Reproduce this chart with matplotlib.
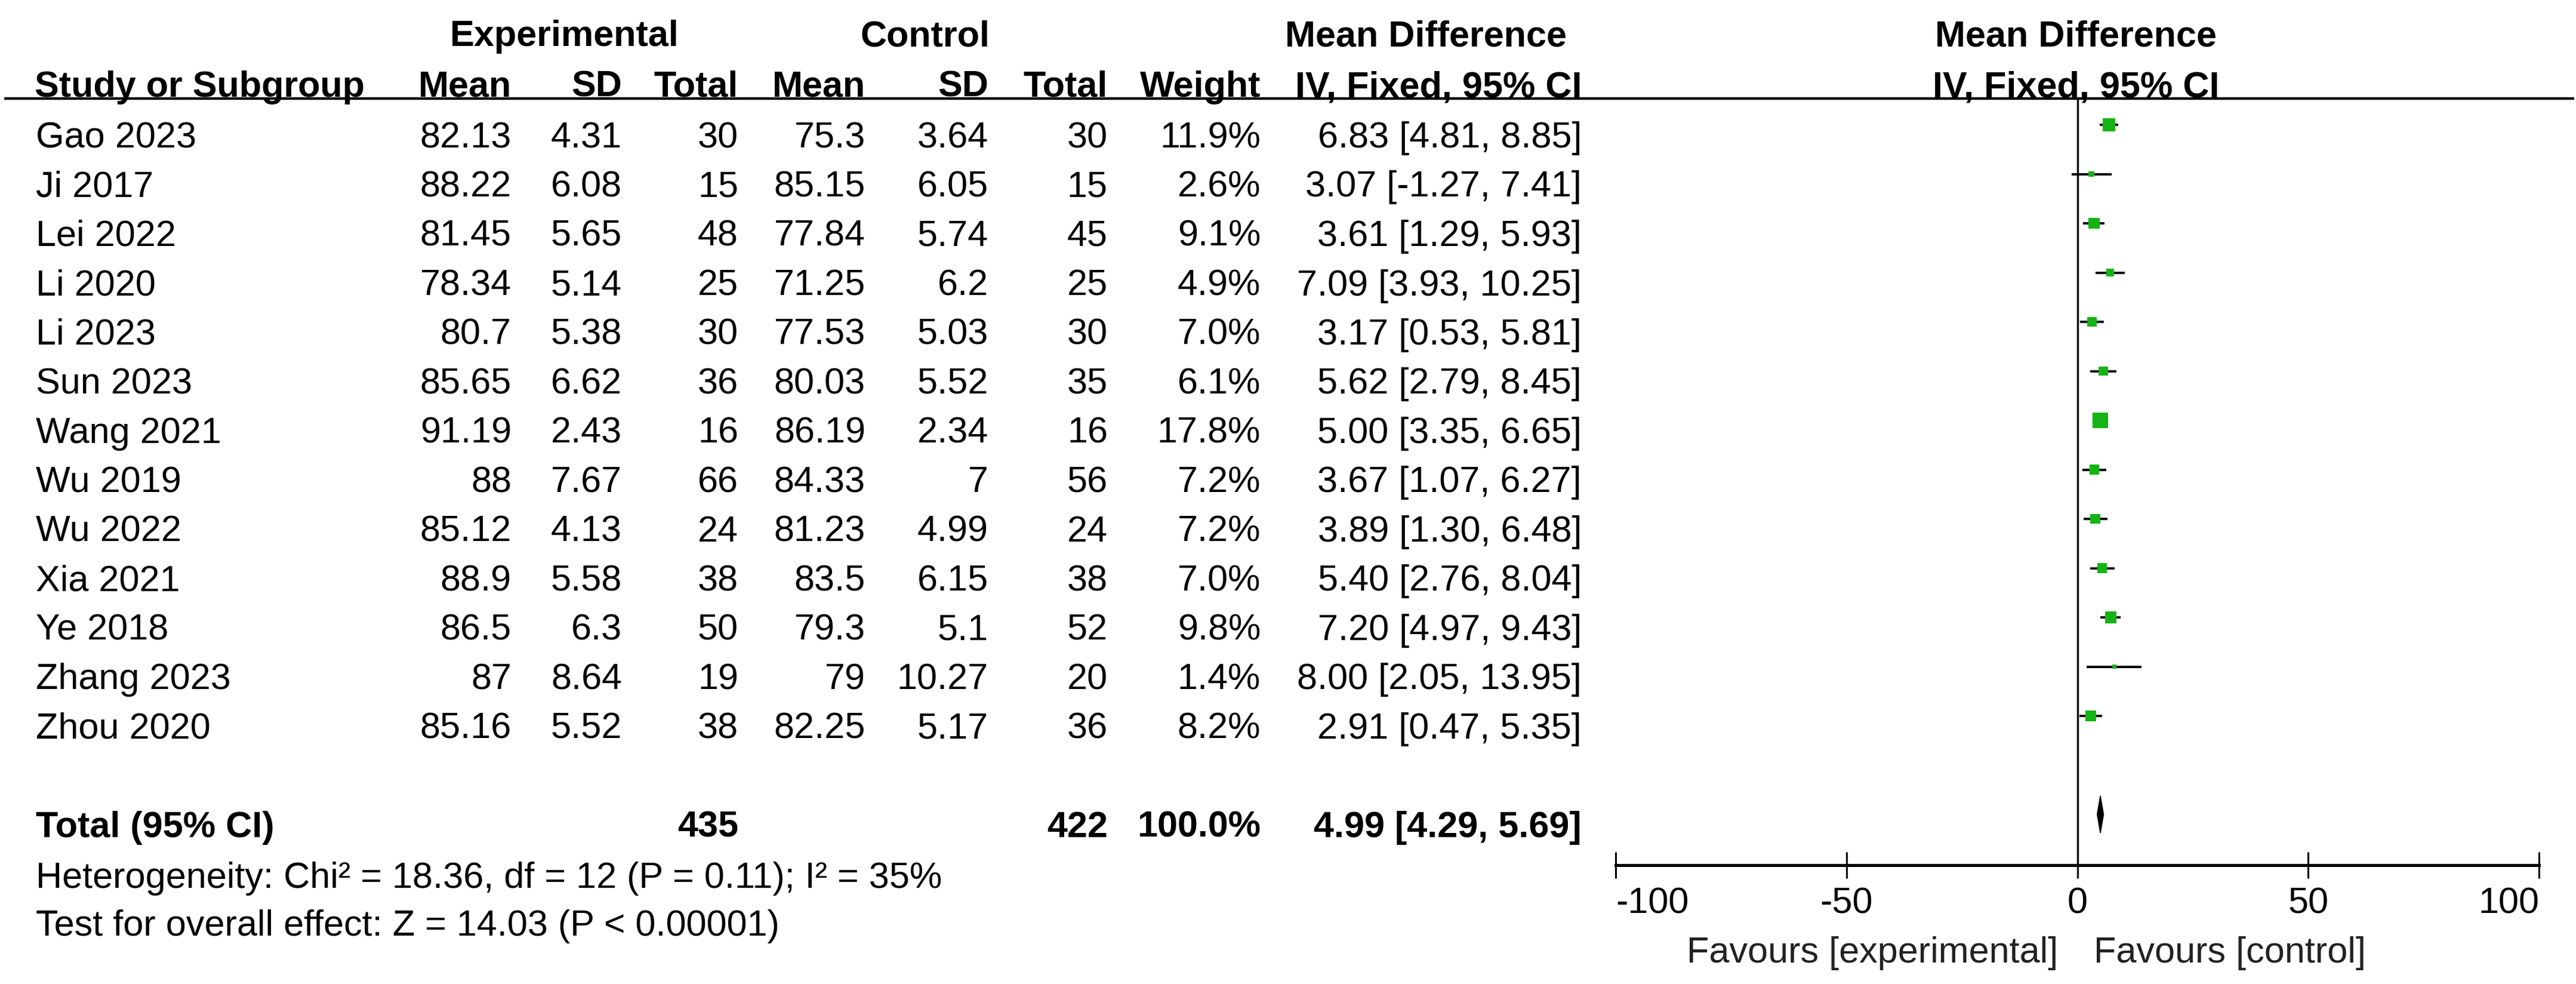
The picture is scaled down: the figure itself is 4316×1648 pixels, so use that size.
import matplotlib
matplotlib.use("Agg")
import matplotlib.pyplot as plt

plt.rcParams['font.family'] = ['Liberation Sans', 'DejaVu Sans']

# study data
studies = ["Gao 2023", "Ji 2017", "Lei 2022", "Li 2020", "Li 2023", "Sun 2023", "Wang 2021",
           "Wu 2019", "Wu 2022", "Xia 2021", "Ye 2018", "Zhang 2023", "Zhou 2020"]
exp_mean = [82.13, 88.22, 81.45, 78.34, 80.7, 85.65, 91.19, 88, 85.12, 88.9, 86.5, 87, 85.16]
exp_sd = [4.31, 6.08, 5.65, 5.14, 5.38, 6.62, 2.43, 7.67, 4.13, 5.58, 6.3, 8.64, 5.52]
exp_n = [30, 15, 48, 25, 30, 36, 16, 66, 24, 38, 50, 19, 38]
ctl_mean = [75.3, 85.15, 77.84, 71.25, 77.53, 80.03, 86.19, 84.33, 81.23, 83.5, 79.3, 79, 82.25]
ctl_sd = [3.64, 6.05, 5.74, 6.2, 5.03, 5.52, 2.34, 7, 4.99, 6.15, 5.1, 10.27, 5.17]
ctl_n = [30, 15, 45, 25, 30, 35, 16, 56, 24, 38, 52, 20, 36]
weight = [11.9, 2.6, 9.1, 4.9, 7.0, 6.1, 17.8, 7.2, 7.2, 7.0, 9.8, 1.4, 8.2]
md = [6.83, 3.07, 3.61, 7.09, 3.17, 5.62, 5.00, 3.67, 3.89, 5.40, 7.20, 8.00, 2.91]
ci_lo = [4.81, -1.27, 1.29, 3.93, 0.53, 2.79, 3.35, 1.07, 1.30, 2.76, 4.97, 2.05, 0.47]
ci_hi = [8.85, 7.41, 5.93, 10.25, 5.81, 8.45, 6.65, 6.27, 6.48, 8.04, 9.43, 13.95, 5.35]

total_exp = 435
total_ctl = 422
total_weight = 100.0
total_md = 4.99
total_lo = 4.29
total_hi = 5.69

het_text = "Heterogeneity: Chi\u00b2 = 18.36, df = 12 (P = 0.11); I\u00b2 = 35%"
effect_text = "Test for overall effect: Z = 14.03 (P < 0.00001)"

xticks = [-100, -50, 0, 50, 100]
xticklabels = ["-100", "-50", "0", "50", "100"]
fav_left = "Favours [experimental]"
fav_right = "Favours [control]"

# layout (pixels)
W, H = 4316, 1649
FS = 44
row0 = 225          # text centre of first study row
plot_row0 = 210     # marks sit a little above the text centre
rowh = 82.5
total_row = 14
line_y = 166
axis_y = 1450
plot_l, plot_r = 2707, 4254
cols = [857, 1042, 1237, 1450, 1656, 1856, 2112, 2650]
green = '#14b414'


def base(yc):
    # baseline from visual centre of digits
    return yc + 22


fig = plt.figure(figsize=(W / 100, H / 100), dpi=100)
ax = fig.add_axes([0, 0, 1, 1])
ax.set_xlim(0, W)
ax.set_ylim(H, 0)
ax.axis('off')

# headers
ax.text(946, base(55), "Experimental", fontsize=FS, fontweight='bold', ha='center', va='baseline')
ax.text(1550, base(55), "Control", fontsize=FS, fontweight='bold', ha='center', va='baseline')
ax.text(2389, base(55), "Mean Difference", fontsize=FS, fontweight='bold', ha='center', va='baseline')
ax.text(3478, base(55), "Mean Difference", fontsize=FS, fontweight='bold', ha='center', va='baseline')
ax.text(58, base(140), "Study or Subgroup", fontsize=FS, fontweight='bold', ha='left', va='baseline')
heads = ["Mean", "SD", "Total", "Mean", "SD", "Total", "Weight", "IV, Fixed, 95% CI"]
for x, h in zip(cols, heads):
    ax.text(x, base(140), h, fontsize=FS, fontweight='bold', ha='right', va='baseline')
ax.text(3478, base(140), "IV, Fixed, 95% CI", fontsize=FS, fontweight='bold', ha='center', va='baseline')
ax.plot([7, 4313], [line_y, line_y], color='black', lw=3.2, solid_capstyle='butt')

# study rows
for i, s in enumerate(studies):
    y = base(row0 + rowh * i)
    ax.text(60, y, s, fontsize=FS, ha='left', va='baseline')
    vals = [f"{exp_mean[i]:g}", f"{exp_sd[i]:g}", f"{exp_n[i]}",
            f"{ctl_mean[i]:g}", f"{ctl_sd[i]:g}", f"{ctl_n[i]}",
            f"{weight[i]:.1f}%", f"{md[i]:.2f} [{ci_lo[i]:.2f}, {ci_hi[i]:.2f}]"]
    for x, v in zip(cols, vals):
        ax.text(x, y, v, fontsize=FS, ha='right', va='baseline')

# total row
yt = base(row0 + rowh * total_row)
ax.text(60, yt, "Total (95% CI)", fontsize=FS, fontweight='bold', ha='left', va='baseline')
ax.text(cols[2], yt, f"{total_exp}", fontsize=FS, fontweight='bold', ha='right', va='baseline')
ax.text(cols[5], yt, f"{total_ctl}", fontsize=FS, fontweight='bold', ha='right', va='baseline')
ax.text(cols[6], yt, f"{total_weight:.1f}%", fontsize=FS, fontweight='bold', ha='right', va='baseline')
ax.text(cols[7], yt, f"{total_md:.2f} [{total_lo:.2f}, {total_hi:.2f}]", fontsize=FS,
        fontweight='bold', ha='right', va='baseline')
ax.text(60, base(1465), het_text, fontsize=FS, ha='left', va='baseline')
ax.text(60, base(1545), effect_text, fontsize=FS, ha='left', va='baseline')

# forest panel
fax = fig.add_axes([plot_l / W, 1 - axis_y / H, (plot_r - plot_l) / W, (axis_y - line_y) / H])
fax.set_xlim(-100, 100)
fax.set_ylim((axis_y - plot_row0) / rowh, -(plot_row0 - line_y) / rowh)
fax.patch.set_alpha(0)
for sp in ['top', 'left', 'right']:
    fax.spines[sp].set_visible(False)
fax.spines['bottom'].set_linewidth(3.6)
fax.set_yticks([])
fax.set_xticks(xticks)
fax.set_xticklabels(xticklabels)
fax.tick_params(axis='x', direction='inout', length=31, width=2.2, pad=10, labelsize=FS)
tl = fax.get_xticklabels()
tl[0].set_horizontalalignment('left')
tl[-1].set_horizontalalignment('right')

fax.axvline(0, color='black', lw=2.4, zorder=1)
for i in range(len(studies)):
    fax.plot([ci_lo[i], ci_hi[i]], [i, i], color='black', lw=2.8, zorder=2, solid_capstyle='butt')
    side = 26 * (weight[i] / max(weight)) ** 0.5 * 0.72
    fax.scatter([md[i]], [i], marker='s', s=side ** 2, color=green, edgecolors='none', zorder=3)

dh = 0.38
fax.fill([total_lo, total_md, total_hi, total_md],
         [total_row, total_row - dh, total_row, total_row + dh], color='black', zorder=3)

# favours labels
ax.text(3448, base(1590), fav_left, fontsize=FS, color='#222222', ha='right', va='baseline')
ax.text(3508, base(1590), fav_right, fontsize=FS, color='#222222', ha='left', va='baseline')

fig.savefig("out.png", dpi=100)
